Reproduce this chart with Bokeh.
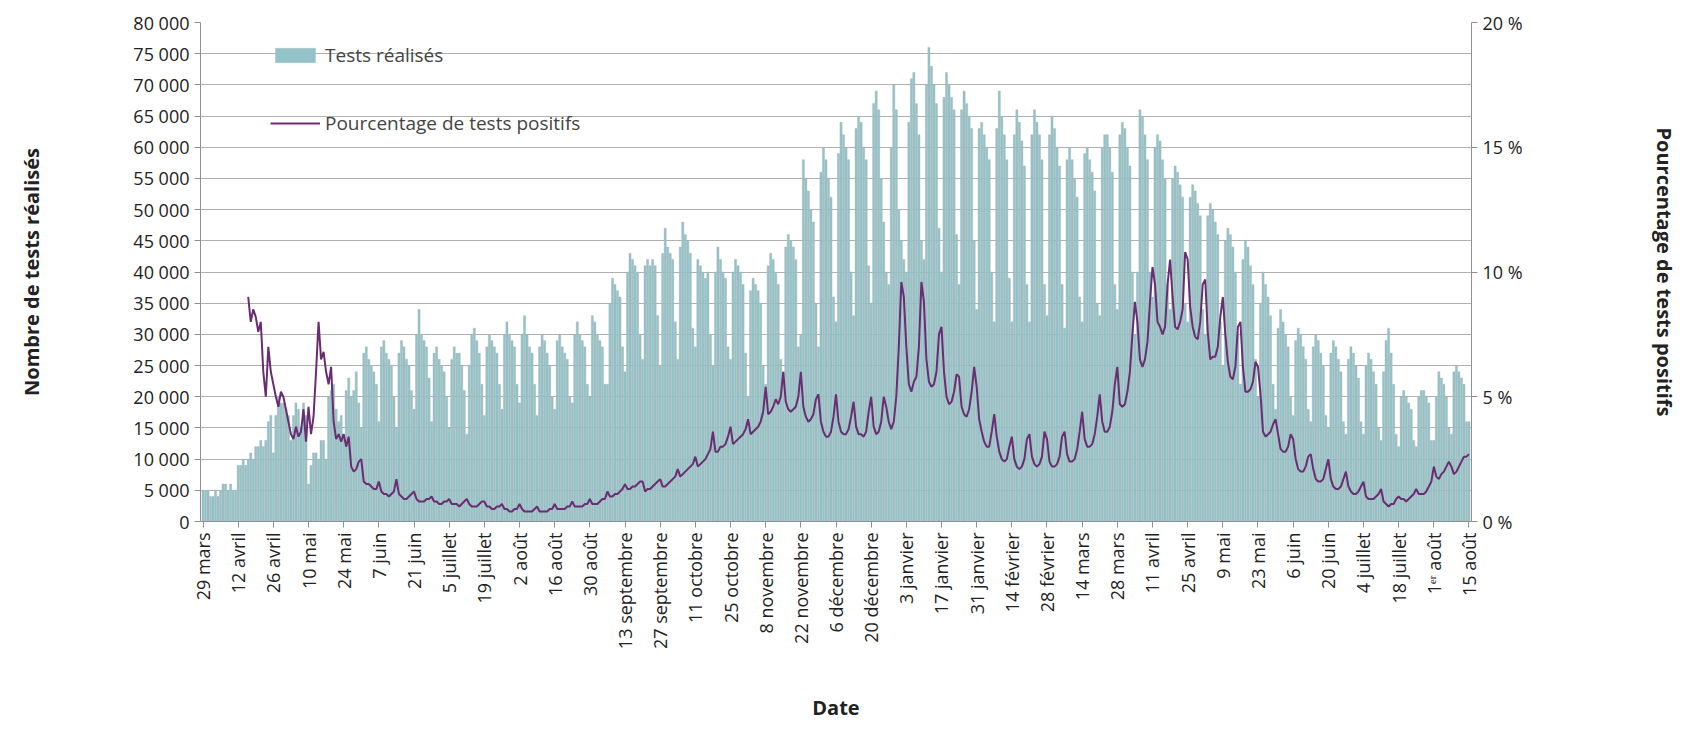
import datetime as dt
from bokeh.plotting import figure
from bokeh.models import Range1d, LinearAxis, FixedTicker, Legend, LegendItem
from bokeh.embed import file_html
from bokeh.resources import INLINE

# tests per day (thousands), one row per week starting Sunday 29 March 2020
tests_k = [
    [5, 5, 5, 4, 4, 5, 4], [5, 6, 6, 5, 6, 5, 5], [9, 9, 10, 9, 10, 11, 10],
    [12, 12, 13, 12, 13, 16, 17], [11, 17, 20, 19, 19, 18, 17], [13, 17, 19, 18, 15, 19, 17],
    [6, 9, 11, 11, 10, 13, 13], [10, 20, 21, 22, 18, 16, 17], [14, 21, 23, 20, 21, 24, 19],
    [15, 27, 28, 26, 25, 24, 22], [16, 28, 29, 27, 26, 25, 20], [15, 27, 29, 28, 26, 25, 21],
    [18, 30, 34, 30, 29, 28, 23], [16, 27, 28, 26, 25, 24, 20], [15, 26, 28, 27, 27, 25, 21],
    [14, 25, 30, 31, 29, 27, 22], [17, 28, 30, 29, 28, 27, 22], [18, 30, 32, 30, 29, 28, 22],
    [19, 30, 33, 30, 28, 27, 22], [17, 28, 30, 29, 27, 25, 20], [18, 29, 30, 28, 27, 26, 20],
    [19, 30, 32, 30, 29, 28, 22], [20, 33, 32, 30, 29, 28, 22], [22, 35, 39, 38, 37, 36, 28],
    [24, 40, 43, 42, 41, 40, 30], [26, 41, 42, 41, 42, 41, 33], [25, 43, 47, 44, 43, 42, 32],
    [26, 44, 48, 46, 45, 43, 31], [28, 42, 41, 40, 39, 40, 30], [25, 40, 44, 42, 40, 39, 28],
    [26, 40, 42, 41, 40, 38, 27], [20, 37, 39, 38, 37, 35, 25], [22, 41, 43, 42, 40, 38, 26],
    [24, 44, 46, 45, 44, 42, 28], [30, 58, 55, 53, 50, 48, 35], [28, 56, 60, 58, 55, 52, 36],
    [32, 59, 64, 62, 60, 58, 40], [33, 63, 65, 64, 60, 58, 41], [35, 67, 69, 66, 55, 48, 40],
    [38, 60, 70, 66, 50, 45, 42], [40, 64, 71, 72, 67, 62, 45], [42, 70, 76, 73, 70, 67, 47],
    [40, 68, 72, 70, 68, 66, 46], [38, 66, 69, 67, 65, 63, 45], [34, 63, 64, 62, 60, 58, 40],
    [32, 63, 69, 65, 62, 58, 39], [32, 62, 66, 64, 61, 57, 38], [32, 62, 66, 64, 62, 58, 38],
    [33, 62, 65, 63, 60, 57, 38], [31, 58, 60, 58, 55, 52, 36], [32, 59, 60, 58, 56, 53, 35],
    [33, 60, 62, 62, 60, 56, 38], [34, 62, 64, 63, 60, 57, 40], [30, 40, 66, 65, 62, 58, 40],
    [36, 60, 62, 61, 58, 55, 38], [34, 55, 57, 56, 54, 52, 35], [32, 52, 54, 53, 51, 49, 34],
    [30, 49, 51, 50, 48, 46, 32], [25, 45, 47, 46, 44, 40, 30], [22, 42, 45, 44, 41, 38, 26],
    [20, 35, 40, 38, 36, 33, 22], [18, 31, 34, 32, 30, 28, 20], [17, 29, 31, 30, 28, 26, 18],
    [16, 28, 30, 29, 27, 25, 17], [15, 27, 29, 28, 26, 24, 16], [14, 26, 28, 27, 25, 23, 16],
    [14, 25, 27, 26, 24, 22, 15], [13, 24, 29, 31, 27, 22, 14], [12, 20, 21, 20, 19, 18, 13],
    [12, 20, 21, 21, 20, 19, 13], [13, 20, 24, 23, 22, 20, 15], [14, 24, 25, 24, 23, 22, 16],
    [16],
]

# share of positive tests (%), same weekly rows; None before 16 April 2020
pct_rows = [
    [None] * 7, [None] * 7, [None, None, None, None, 9.0, 8.0, 8.5],
    [8.2, 7.6, 8.0, 6.0, 5.0, 7.0, 6.0], [5.5, 5.0, 4.6, 5.2, 5.0, 4.5, 4.0],
    [3.5, 3.3, 3.8, 3.4, 3.6, 4.5, 3.2], [4.6, 3.5, 4.2, 6.0, 8.0, 6.5, 6.8],
    [6.0, 5.5, 6.2, 4.0, 3.3, 3.5, 3.2], [3.5, 3.0, 3.4, 2.2, 2.0, 2.1, 2.4],
    [2.5, 1.6, 1.5, 1.5, 1.4, 1.3, 1.3], [1.6, 1.2, 1.1, 1.1, 1.0, 1.1, 1.2],
    [1.7, 1.1, 1.0, 0.9, 0.9, 1.0, 1.1], [1.2, 0.9, 0.8, 0.8, 0.8, 0.9, 0.9],
    [1.0, 0.8, 0.8, 0.7, 0.7, 0.8, 0.8], [0.9, 0.7, 0.7, 0.7, 0.6, 0.7, 0.8],
    [0.9, 0.7, 0.6, 0.6, 0.6, 0.7, 0.8], [0.8, 0.6, 0.6, 0.5, 0.5, 0.6, 0.6],
    [0.7, 0.5, 0.5, 0.4, 0.4, 0.5, 0.5], [0.7, 0.5, 0.4, 0.4, 0.4, 0.4, 0.5],
    [0.6, 0.4, 0.4, 0.4, 0.4, 0.5, 0.5], [0.7, 0.5, 0.5, 0.5, 0.5, 0.6, 0.6],
    [0.8, 0.6, 0.6, 0.6, 0.6, 0.7, 0.7], [0.9, 0.7, 0.7, 0.7, 0.8, 0.9, 0.9],
    [1.2, 1.0, 1.0, 1.1, 1.1, 1.2, 1.3], [1.5, 1.3, 1.3, 1.4, 1.4, 1.5, 1.6],
    [1.6, 1.2, 1.3, 1.3, 1.4, 1.5, 1.6], [1.7, 1.4, 1.4, 1.5, 1.6, 1.7, 1.8],
    [2.1, 1.8, 1.9, 2.0, 2.1, 2.2, 2.3], [2.6, 2.2, 2.3, 2.4, 2.5, 2.7, 2.9],
    [3.6, 2.8, 2.8, 3.0, 3.0, 3.1, 3.4], [3.8, 3.1, 3.2, 3.3, 3.4, 3.5, 3.7],
    [4.1, 3.5, 3.6, 3.7, 3.8, 4.0, 4.4], [5.4, 4.3, 4.4, 4.6, 4.9, 4.7, 5.0],
    [6.0, 4.8, 4.5, 4.4, 4.5, 4.6, 5.0], [6.0, 4.6, 4.2, 4.0, 4.1, 4.3, 4.9],
    [5.1, 4.0, 3.6, 3.4, 3.4, 3.6, 4.2], [5.1, 4.0, 3.6, 3.5, 3.5, 3.7, 4.2],
    [4.8, 3.8, 3.5, 3.5, 3.4, 3.6, 4.4], [5.0, 3.8, 3.5, 3.6, 4.0, 5.0, 4.6],
    [4.0, 3.7, 4.0, 5.0, 7.0, 9.6, 9.0], [7.0, 5.5, 5.2, 5.6, 5.8, 7.0, 9.6],
    [8.8, 6.5, 5.6, 5.4, 5.5, 6.0, 7.5], [7.8, 6.0, 5.0, 4.7, 4.8, 5.2, 5.9],
    [5.8, 4.6, 4.3, 4.2, 4.5, 5.2, 6.2], [5.4, 4.1, 3.6, 3.2, 3.0, 3.0, 3.6],
    [4.3, 3.4, 2.8, 2.5, 2.4, 2.5, 3.0], [3.4, 2.5, 2.2, 2.1, 2.2, 2.5, 3.3],
    [3.5, 2.6, 2.3, 2.2, 2.3, 2.6, 3.6], [3.3, 2.4, 2.2, 2.2, 2.3, 2.6, 3.4],
    [3.6, 2.7, 2.4, 2.4, 2.5, 2.9, 3.6], [4.4, 3.3, 3.0, 3.0, 3.1, 3.5, 4.2],
    [5.1, 4.0, 3.6, 3.6, 3.8, 4.4, 5.5], [6.2, 4.7, 4.6, 4.7, 5.2, 6.0, 7.5],
    [8.8, 8.0, 6.5, 6.2, 6.5, 7.2, 8.8], [10.2, 9.5, 8.0, 7.8, 7.5, 7.8, 9.5],
    [10.5, 9.0, 7.8, 7.7, 8.0, 8.5, 10.8], [10.5, 8.6, 7.8, 7.4, 7.3, 8.0, 9.5],
    [9.7, 7.6, 6.5, 6.6, 6.6, 7.0, 8.2], [9.0, 7.5, 6.4, 5.8, 5.7, 6.2, 7.8],
    [8.0, 6.2, 5.2, 5.2, 5.3, 5.6, 6.4], [6.2, 5.1, 3.6, 3.4, 3.5, 3.6, 3.9],
    [4.1, 3.5, 2.9, 2.8, 2.8, 3.0, 3.5], [3.3, 2.5, 2.1, 2.0, 2.0, 2.2, 2.6],
    [2.7, 2.1, 1.7, 1.6, 1.6, 1.7, 2.1], [2.5, 1.7, 1.4, 1.3, 1.3, 1.4, 1.7],
    [2.0, 1.4, 1.2, 1.1, 1.1, 1.2, 1.4], [1.6, 1.0, 0.9, 0.9, 0.9, 1.0, 1.1],
    [1.3, 0.8, 0.7, 0.6, 0.7, 0.7, 0.9], [1.0, 0.9, 0.9, 0.8, 0.9, 1.0, 1.1],
    [1.3, 1.1, 1.1, 1.1, 1.2, 1.4, 1.6], [2.2, 1.8, 1.7, 1.9, 2.0, 2.2, 2.4],
    [2.2, 1.9, 2.0, 2.2, 2.4, 2.6, 2.6], [2.7],
]

month_fr = ["janvier", "février", "mars", "avril", "mai", "juin", "juillet",
            "août", "septembre", "octobre", "novembre", "décembre"]

tests = [v * 1000 for row in tests_k for v in row]
pct = [float("nan") if v is None else v for row in pct_rows for v in row]
days = list(range(len(tests)))
start = dt.date(2020, 3, 29)

tick_days = list(range(0, len(tests), 14))
tick_labels = {}
for d in tick_days:
    day = start + dt.timedelta(days=d)
    num = "1ᵉʳ" if day.day == 1 else str(day.day)
    tick_labels[d] = num + " " + month_fr[day.month - 1]

p = figure(width=1680, height=724, output_backend="svg", toolbar_location=None,
           x_range=Range1d(-1, len(tests)), y_range=Range1d(0, 80000),
           min_border_left=200, min_border_right=199, min_border_top=22,
           min_border_bottom=202)
p.outline_line_color = None
p.xgrid.visible = False
p.ygrid.grid_line_color = "#b0b0b0"
p.ygrid.ticker = FixedTicker(ticks=list(range(0, 80001, 5000)))

bars = p.vbar(x=days, top=tests, width=0.85, fill_color="#93c3c8",
              line_color="#a4b4b6", line_width=0.4)

p.extra_y_ranges = {"pct": Range1d(0, 20)}
line = p.line(x=days, y=pct, y_range_name="pct", line_color="#6a2d72", line_width=2)

font = "Open Sans"
p.yaxis.ticker = FixedTicker(ticks=list(range(0, 80001, 5000)))
p.yaxis.major_label_overrides = {v: ("{:,}".format(v).replace(",", " ")) for v in range(0, 80001, 5000)}
p.yaxis.axis_label = "Nombre de tests réalisés"
p.xaxis.ticker = FixedTicker(ticks=tick_days)
p.xaxis.major_label_overrides = tick_labels
p.xaxis.major_label_orientation = 1.5708
p.xaxis.axis_label = "Date"

right = LinearAxis(y_range_name="pct", ticker=FixedTicker(ticks=[0, 5, 10, 15, 20]),
                   axis_label="Pourcentage de tests positifs")
right.major_label_overrides = {v: f"{v} %" for v in [0, 5, 10, 15, 20]}
p.add_layout(right, "right")

for ax in p.yaxis + p.xaxis:
    ax.major_label_text_font = font
    ax.major_label_text_font_size = "18px"
    ax.major_label_text_color = "#222222"
    ax.axis_label_text_font = font
    ax.axis_label_text_font_size = "20px"
    ax.axis_label_text_font_style = "bold"
    ax.axis_label_text_color = "#222222"
    ax.axis_line_color = "#909090"
    ax.major_tick_line_color = "#909090"
    ax.minor_tick_line_color = None
    ax.major_tick_in = 0
    ax.major_tick_out = 6
p.xaxis.axis_label_standoff = 42
p.yaxis[0].axis_label_standoff = 85
right.axis_label_standoff = 125

legend = Legend(items=[LegendItem(label="Tests réalisés", renderers=[bars]),
                       LegendItem(label="Pourcentage de tests positifs", renderers=[line])],
                location=(70, 385), spacing=42, glyph_width=50, glyph_height=18,
                label_text_font=font, label_text_font_size="19px",
                border_line_color=None, background_fill_alpha=0)
p.add_layout(legend, "center")

open("out.html", "w").write(file_html(p, INLINE))
